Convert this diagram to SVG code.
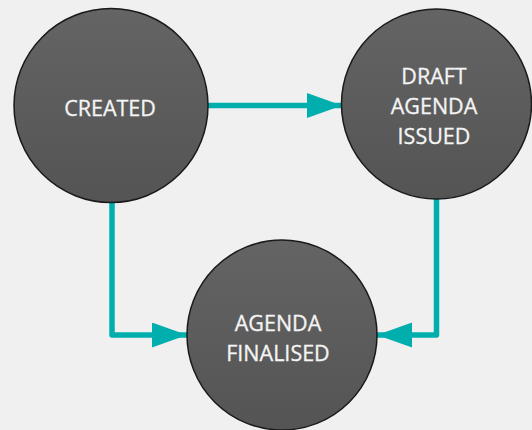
<svg xmlns="http://www.w3.org/2000/svg" width="532" height="430" viewBox="0 0 532 430">
  <defs>
    <linearGradient id="nodeFill" x1="0" y1="0" x2="0" y2="1">
      <stop offset="0" stop-color="#646464"/>
      <stop offset="1" stop-color="#545454"/>
    </linearGradient>
    <marker id="head" markerUnits="userSpaceOnUse" markerWidth="36" markerHeight="26" refX="35" refY="12.5" orient="auto">
      <path d="M0,0 L35,12.5 L0,25 Z" fill="#00AEAE"/>
    </marker>
  </defs>
  <style>
    .node { fill: url(#nodeFill); stroke: #1a1a1a; stroke-width: 1.5; }
    .label { font-family: "Open Sans", "Noto Sans", sans-serif; font-size: 21.5px; fill: #f4f4f4; text-anchor: middle; stroke: #f4f4f4; stroke-width: 0.3; }
    .conn { fill: none; stroke: #00AEAE; stroke-width: 5.5; stroke-linejoin: round; marker-end: url(#head); }
  </style>
  <rect width="532" height="430" fill="#f0f0f0"/>

  <g id="connectors">
    <path class="conn" d="M208,105.5 L342,105.5"/>
    <path class="conn" d="M112,202 L112,335 L187,335"/>
    <path class="conn" d="M436.5,199 L436.5,335 L377,335"/>
  </g>

  <g id="created">
    <circle class="node" cx="111" cy="105.5" r="97"/>
    <text class="label" x="110" y="116">CREATED</text>
  </g>

  <g id="draft-agenda-issued">
    <circle class="node" cx="436.5" cy="104" r="95"/>
    <text class="label" x="434" y="83.5">DRAFT</text>
    <text class="label" x="434" y="113.5">AGENDA</text>
    <text class="label" x="434" y="143.5">ISSUED</text>
  </g>

  <g id="agenda-finalised">
    <circle class="node" cx="282" cy="335" r="95"/>
    <text class="label" x="278" y="330.5">AGENDA</text>
    <text class="label" x="278" y="360.5">FINALISED</text>
  </g>
</svg>
